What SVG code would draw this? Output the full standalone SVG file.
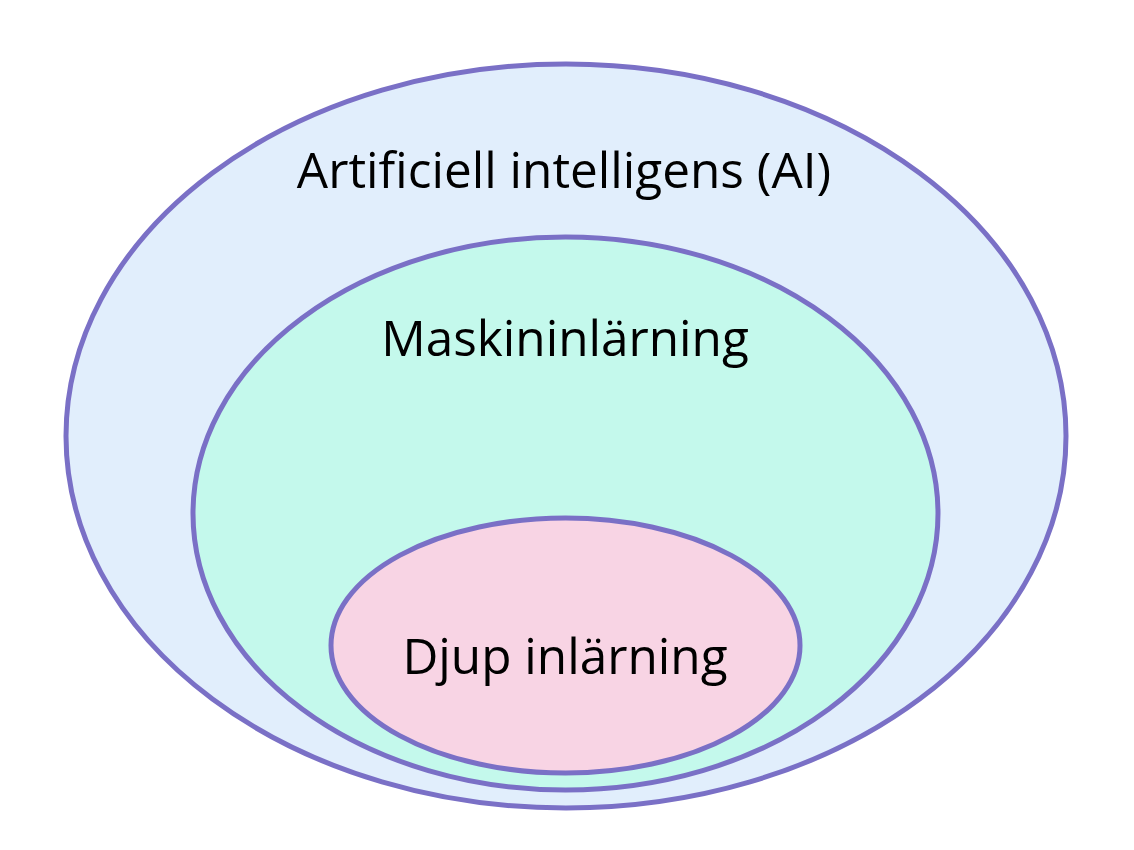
<svg xmlns="http://www.w3.org/2000/svg" width="1134" height="850" viewBox="0 0 1134 850">
<style>
.ring{stroke:#7a70c6;stroke-width:5}
.lbl{font-family:"Open Sans","Noto Sans",sans-serif;font-size:49.5px;fill:#000;text-anchor:middle}
</style>
<rect width="1134" height="850" fill="#fff"/>
<g id="ai">
<ellipse class="ring" cx="566" cy="436" rx="500" ry="372" fill="#e1eefc"/>
<text class="lbl" x="564" y="188">Artificiell intelligens (AI)</text>
</g>
<g id="ml">
<ellipse class="ring" cx="565.5" cy="513.5" rx="372.5" ry="276.5" fill="#c4f9ec"/>
<text class="lbl" x="565" y="356">Maskininlärning</text>
</g>
<g id="dl">
<ellipse class="ring" cx="565.5" cy="645.5" rx="234.5" ry="127.5" fill="#f8d4e4"/>
<text class="lbl" x="565" y="674">Djup inlärning</text>
</g>
<g id="connectors"/>
</svg>
